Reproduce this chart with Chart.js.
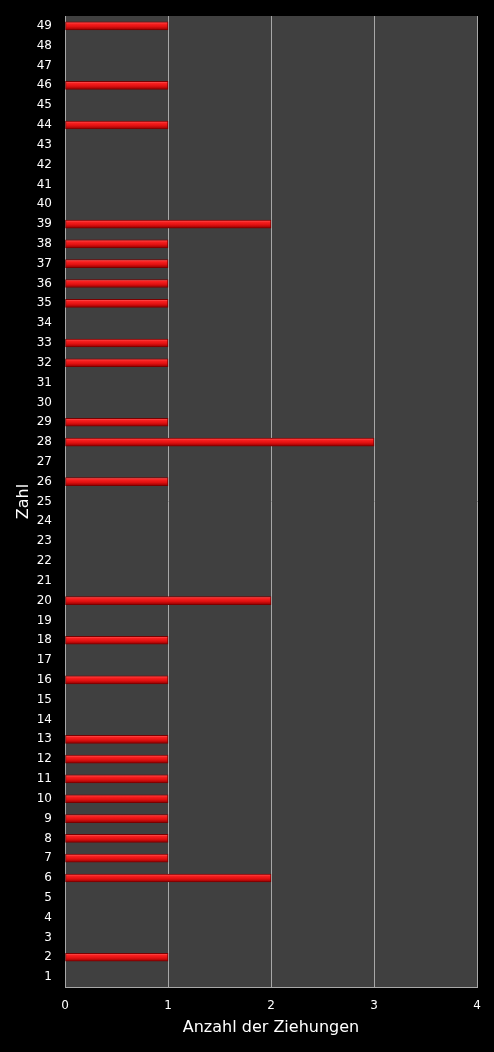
<!DOCTYPE html>
<html><head><meta charset="utf-8">
<script src="https://cdn.jsdelivr.net/npm/chart.js@4"></script>
<style>html,body{margin:0;padding:0;background:#000;}#wrap{width:494px;height:1052px;}</style>
</head><body><div id="wrap"><canvas id="c" width="494" height="1052"></canvas></div>
<script>
const categories = ["1","2","3","4","5","6","7","8","9","10","11","12","13","14","15","16","17","18","19","20","21","22","23","24","25","26","27","28","29","30","31","32","33","34","35","36","37","38","39","40","41","42","43","44","45","46","47","48","49"];
const counts = [0,1,0,0,0,2,1,1,1,1,1,1,1,0,0,1,0,1,0,2,0,0,0,0,0,1,0,3,1,0,0,1,1,0,1,1,1,1,2,0,0,0,0,1,0,1,0,0,1];
const xTicks = [0,1,2,3,4];
const xTitle = "Anzahl der Ziehungen";
const yTitle = "Zahl";

const bgPlugin = {
  id:'bg',
  beforeDraw(chart){
    const {ctx, chartArea:a} = chart;
    ctx.save();
    ctx.fillStyle='#000';
    ctx.fillRect(0,0,chart.width,chart.height);
    ctx.fillStyle='#404040';
    ctx.fillRect(a.left,a.top,a.right-a.left,a.bottom-a.top);
    ctx.restore();
  },
  beforeDatasetsDraw(chart){
    const ctx = chart.ctx;
    chart.getDatasetMeta(0).data.forEach(el=>{
      const h = el.height, y0 = el.y - h/2;
      const g = ctx.createLinearGradient(0,y0,0,y0+h);
      g.addColorStop(0,'#ff6a6a');
      g.addColorStop(0.25,'#f82020');
      g.addColorStop(0.6,'#e01010');
      g.addColorStop(1,'#900000');
      el.options = Object.assign({}, el.options, {backgroundColor:g});
    });
  }
};

new Chart(document.getElementById('c'), {
  type:'bar',
  data:{labels:categories, datasets:[{data:counts, backgroundColor:'#e01010', borderColor:'#7a0000', borderWidth:1, barThickness:8, borderSkipped:false}]},
  options:{
    indexAxis:'y', responsive:false, animation:false, devicePixelRatio:1,
    layout:{padding:{left:14,right:17,top:16,bottom:15}},
    plugins:{legend:{display:false}, tooltip:{enabled:false}},
    scales:{
      x:{min:0,max:4, afterBuildTicks(ax){ax.ticks = xTicks.map(v=>({value:v}));},
        grid:{color:'#a8a8a8', lineWidth:1, drawTicks:false},
        border:{color:'#a8a8a8'},
        ticks:{color:'#fff', font:{family:'DejaVu Sans', size:12}, padding:12},
        title:{display:true, text:xTitle, color:'#fff', font:{family:'DejaVu Sans', size:16}, padding:{top:4,bottom:0}},
        afterFit(ax){ax.height = 50;}
      },
      y:{reverse:true, grid:{display:false, drawTicks:false},
        border:{color:'#a8a8a8'},
        ticks:{color:'#fff', font:{family:'DejaVu Sans', size:12}, padding:13, autoSkip:false},
        title:{display:true, text:yTitle, color:'#fff', font:{family:'DejaVu Sans', size:16}, padding:{top:0,bottom:4}},
        afterFit(ax){ax.width = 51; ax.paddingTop = 0; ax.paddingBottom = 0;}
      }
    }
  },
  plugins:[bgPlugin]
});
</script></body></html>
